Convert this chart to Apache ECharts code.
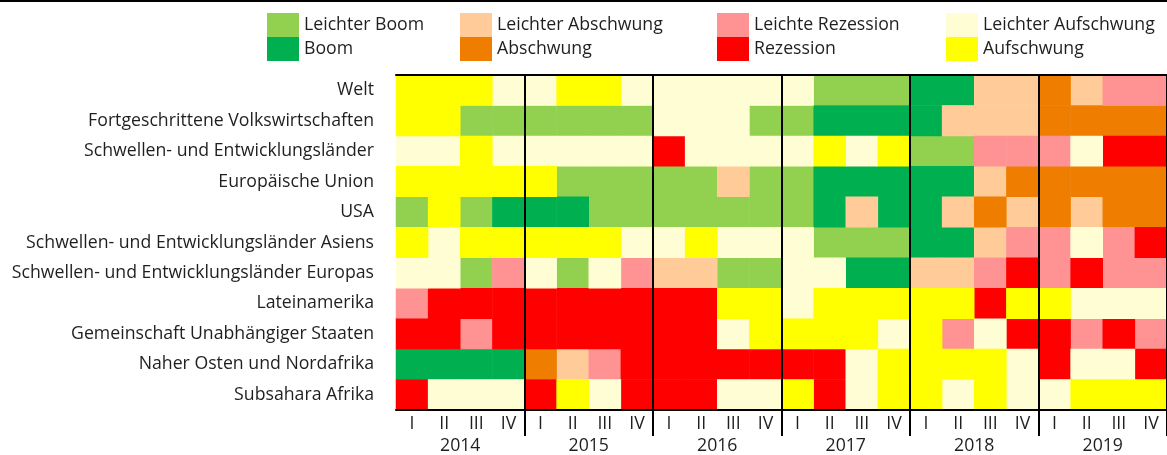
<!DOCTYPE html>
<html>
<head>
<meta charset="utf-8">
<script src="https://cdn.jsdelivr.net/npm/echarts@6/dist/echarts.min.js"></script>
<style>
  html, body { margin: 0; padding: 0; background: #fff; }
  #chart { width: 1167px; height: 455px; }
</style>
</head>
<body>
<div id="chart"></div>
<script>
const regionNames = [
  'Welt',
  'Fortgeschrittene Volkswirtschaften',
  'Schwellen- und Entwicklungsländer',
  'Europäische Union',
  'USA',
  'Schwellen- und Entwicklungsländer Asiens',
  'Schwellen- und Entwicklungsländer Europas',
  'Lateinamerika',
  'Gemeinschaft Unabhängiger Staaten',
  'Naher Osten und Nordafrika',
  'Subsahara Afrika'
]
const years = ['2014', '2015', '2016', '2017', '2018', '2019']
const quarterNames = ['I', 'II', 'III', 'IV']
const quarterLabels = years.flatMap(() => quarterNames)

// phase codes, in legend order
const phaseKeys = ['LB', 'B', 'LA', 'A', 'LR', 'R', 'LU', 'U']
const phaseNames = [
  'Leichter Boom', 'Boom',
  'Leichter Abschwung', 'Abschwung',
  'Leichte Rezession', 'Rezession',
  'Leichter Aufschwung', 'Aufschwung'
]

// one entry per quarter, 2014 I .. 2019 IV
const welt = ['U', 'U', 'U', 'LU', 'LU', 'U', 'U', 'LU', 'LU', 'LU', 'LU', 'LU', 'LU', 'LB', 'LB', 'LB', 'B', 'B', 'LA', 'LA', 'A', 'LA', 'LR', 'LR']
const fortgeschrittene = ['U', 'U', 'LB', 'LB', 'LB', 'LB', 'LB', 'LB', 'LU', 'LU', 'LU', 'LB', 'LB', 'B', 'B', 'B', 'B', 'LA', 'LA', 'LA', 'A', 'A', 'A', 'A']
const schwellen = ['LU', 'LU', 'U', 'LU', 'LU', 'LU', 'LU', 'LU', 'R', 'LU', 'LU', 'LU', 'LU', 'U', 'LU', 'U', 'LB', 'LB', 'LR', 'LR', 'LR', 'LU', 'R', 'R']
const eu = ['U', 'U', 'U', 'U', 'U', 'LB', 'LB', 'LB', 'LB', 'LB', 'LA', 'LB', 'LB', 'B', 'B', 'B', 'B', 'B', 'LA', 'A', 'A', 'A', 'A', 'A']
const usa = ['LB', 'U', 'LB', 'B', 'B', 'B', 'LB', 'LB', 'LB', 'LB', 'LB', 'LB', 'LB', 'B', 'LA', 'B', 'B', 'LA', 'A', 'LA', 'A', 'LA', 'A', 'A']
const asien = ['U', 'LU', 'U', 'U', 'U', 'U', 'U', 'LU', 'LU', 'U', 'LU', 'LU', 'LU', 'LB', 'LB', 'LB', 'B', 'B', 'LA', 'LR', 'LR', 'LU', 'LR', 'R']
const europa = ['LU', 'LU', 'LB', 'LR', 'LU', 'LB', 'LU', 'LR', 'LA', 'LA', 'LB', 'LB', 'LU', 'LU', 'B', 'B', 'LA', 'LA', 'LR', 'R', 'LR', 'R', 'LR', 'LR']
const lateinamerika = ['LR', 'R', 'R', 'R', 'R', 'R', 'R', 'R', 'R', 'R', 'U', 'U', 'LU', 'U', 'U', 'U', 'U', 'U', 'R', 'U', 'U', 'LU', 'LU', 'LU']
const gus = ['R', 'R', 'LR', 'R', 'R', 'R', 'R', 'R', 'R', 'R', 'LU', 'U', 'U', 'U', 'U', 'LU', 'U', 'LR', 'LU', 'R', 'R', 'LR', 'R', 'LR']
const nahost = ['B', 'B', 'B', 'B', 'A', 'LA', 'LR', 'R', 'R', 'R', 'R', 'R', 'R', 'R', 'LU', 'U', 'U', 'U', 'U', 'LU', 'R', 'LU', 'LU', 'R']
const subsahara = ['R', 'LU', 'LU', 'LU', 'R', 'U', 'LU', 'R', 'R', 'R', 'LU', 'LU', 'U', 'R', 'LU', 'U', 'U', 'LU', 'U', 'LU', 'LU', 'U', 'U', 'U']

const rows = [welt, fortgeschrittene, schwellen, eu, usa, asien, europa, lateinamerika, gus, nahost, subsahara]

const phaseColors = {
  LB: '#92D050',
  B: '#00B050',
  LA: '#FFCC99',
  A: '#EF7D00',
  LR: '#FF9393',
  R: '#FF0000',
  LU: '#FFFDD3',
  U: '#FFFF00'
}

const textColor = '#1f1f1f'
const fontFamily = '"Open Sans", "Noto Sans", sans-serif'
const fontSize = 17.7

const chart = echarts.init(document.getElementById('chart'), null, { renderer: 'canvas' })

// tick / split line only at year boundaries
const yearBoundary = (i) => i > 0 && i % 4 === 0

const series = phaseKeys.map((key, k) => {
  const data = []
  rows.forEach((row, r) => {
    row.forEach((code, c) => {
      if (code === key) data.push([c, r, 1])
    })
  })
  return {
    name: phaseNames[k],
    type: 'heatmap',
    xAxisIndex: 0,
    yAxisIndex: 0,
    data,
    itemStyle: { color: phaseColors[key] },
    emphasis: { disabled: true },
    progressive: 0,
    z: 1
  }
})

// legend: four columns of two stacked swatches
const legendLeft = [267, 460, 717, 946]
const legends = legendLeft.map((left, i) => ({
  orient: 'vertical',
  left,
  top: 13,
  padding: 0,
  itemGap: 0,
  itemWidth: 32,
  itemHeight: 24,
  icon: 'rect',
  selectedMode: false,
  data: [phaseNames[i * 2], phaseNames[i * 2 + 1]],
  textStyle: { fontSize, color: textColor, fontFamily, padding: [5, 0, 0, 0] }
}))

const labelStyle = { fontSize, color: textColor, fontFamily }

const option = {
  animation: false,
  backgroundColor: '#fff',
  textStyle: { fontFamily },
  legend: legends,
  tooltip: { show: false },
  grid: { left: 396, right: 0, top: 75, bottom: 44, containLabel: false },
  xAxis: [
    {
      type: 'category',
      data: quarterLabels,
      position: 'bottom',
      z: 5,
      axisLine: { lineStyle: { color: '#000', width: 2 } },
      axisTick: { show: true, interval: yearBoundary, length: 26, lineStyle: { color: '#000', width: 2 } },
      splitLine: { show: true, interval: yearBoundary, lineStyle: { color: '#000', width: 2 } },
      axisLabel: Object.assign({ interval: 0, margin: 5 }, labelStyle)
    },
    {
      type: 'category',
      data: years,
      position: 'bottom',
      offset: 22,
      axisLine: { show: false },
      axisTick: { show: false },
      axisLabel: Object.assign({ margin: 5 }, labelStyle)
    },
    {
      type: 'category',
      data: quarterLabels,
      position: 'top',
      z: 5,
      axisLine: { lineStyle: { color: '#000', width: 2 } },
      axisTick: { show: false },
      axisLabel: { show: false }
    }
  ],
  yAxis: {
    type: 'category',
    data: regionNames,
    inverse: true,
    axisLine: { show: false },
    axisTick: { show: false },
    axisLabel: Object.assign({ margin: 22, padding: [6, 0, 0, 0] }, labelStyle)
  },
  graphic: [
    { type: 'rect', left: 0, top: 0, shape: { width: 1167, height: 2 }, style: { fill: '#000' } }
  ],
  series
}

chart.setOption(option)
</script>
</body>
</html>
